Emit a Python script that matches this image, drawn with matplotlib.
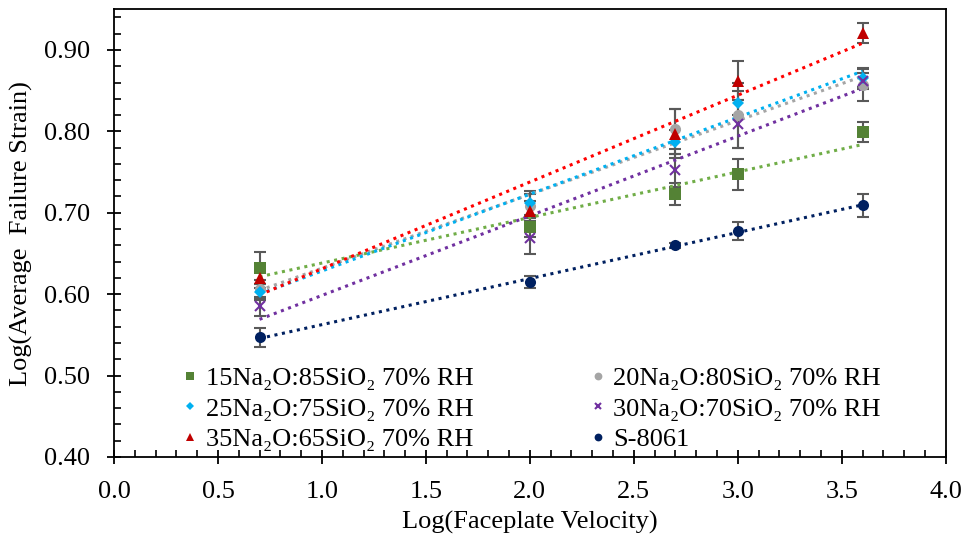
import matplotlib
matplotlib.use('Agg')
import matplotlib.pyplot as plt
import numpy as np
from matplotlib.ticker import MultipleLocator, FormatStrFormatter

plt.rcParams['font.family'] = ['Liberation Serif', 'DejaVu Serif']

velocity = [0.7, 2.0, 2.7, 3.0, 3.6]

labels = ['15Na₂O:85SiO₂ 70% RH', '20Na₂O:80SiO₂ 70% RH', '25Na₂O:75SiO₂ 70% RH',
          '30Na₂O:70SiO₂ 70% RH', '35Na₂O:65SiO₂ 70% RH', 'S-8061']

strain_15 = [0.632, 0.682, 0.723, 0.747, 0.799]
strain_20 = [0.606, 0.708, 0.803, 0.820, 0.857]
strain_25 = [0.603, 0.712, 0.787, 0.835, 0.866]
strain_30 = [0.585, 0.669, 0.752, 0.809, 0.862]
strain_35 = [0.620, 0.702, 0.797, 0.862, 0.921]
strain_s8061 = [0.547, 0.615, 0.660, 0.678, 0.709]

err_15 = [0.020, 0.012, 0.014, 0.019, 0.012]
err_20 = [0.012, 0.015, 0.025, 0.040, 0.020]
err_25 = [0.010, 0.015, 0.015, 0.015, 0.012]
err_30 = [0.012, 0.020, 0.020, 0.030, 0.010]
err_35 = [0.012, 0.012, 0.030, 0.024, 0.012]
err_s8061 = [0.012, 0.007, 0.003, 0.011, 0.014]

series = [strain_15, strain_20, strain_25, strain_30, strain_35, strain_s8061]
errors = [err_15, err_20, err_25, err_30, err_35, err_s8061]
colors = ['#548235', '#A5A5A5', '#00B0F0', '#7030A0', '#C00000', '#002060']
trend_colors = ['#70AD47', '#A5A5A5', '#00B0F0', '#7030A0', '#FF0000', '#002060']
markers = ['s', 'o', 'D', 'x', '^', 'o']
sizes = [8, 8, 6, 7, 8, 8]

fig = plt.figure(figsize=(9.66, 5.44), dpi=100)
ax = fig.add_axes([0.118, 0.160, 0.861, 0.823])

handles = []
xs = np.array(velocity)
for y, e, c, tc, m, s, lab in zip(series, errors, colors, trend_colors, markers, sizes, labels):
    ax.errorbar(velocity, y, yerr=e, fmt='none', ecolor='#595959',
                elinewidth=1.5, capsize=4, capthick=1.5, zorder=2)
    # linear trendline through each series
    k, b = np.polyfit(xs, y, 1)
    ax.plot([xs.min(), xs.max()], [k * xs.min() + b, k * xs.max() + b],
            ls=(0, (1, 1.5)), lw=2.2, color=tc, zorder=3)
    mew = 1.5 if m == 'x' else 0
    h, = ax.plot(velocity, y, ls='none', marker=m, ms=s, color=c,
                 mew=mew, label=lab, zorder=4)
    handles.append(h)

order = [0, 2, 4, 1, 3, 5]
leg = ax.legend([handles[i] for i in order], [labels[i] for i in order],
                ncol=2, loc='lower left', bbox_to_anchor=(0.055, -0.04),
                frameon=False, fontsize=19, markerscale=0.7, handlelength=0.5,
                handletextpad=0.35, columnspacing=4.45, labelspacing=0.27)

ax.set_xlim(0, 4)
ax.set_ylim(0.40, 0.95)
ax.xaxis.set_major_locator(MultipleLocator(0.5))
ax.xaxis.set_minor_locator(MultipleLocator(0.1))
ax.yaxis.set_major_locator(MultipleLocator(0.1))
ax.yaxis.set_minor_locator(MultipleLocator(0.02))
ax.xaxis.set_major_formatter(FormatStrFormatter('%.1f'))
ax.yaxis.set_major_formatter(FormatStrFormatter('%.2f'))
ax.tick_params(which='major', direction='inout', length=10, width=1.3, labelsize=19)
ax.tick_params(axis='x', which='major', pad=12)
ax.tick_params(axis='y', which='major', pad=12)
ax.tick_params(which='minor', direction='in', length=5, width=1.2)
for sp in ax.spines.values():
    sp.set_linewidth(1.3)

ax.set_xlabel('Log(Faceplate Velocity)', fontsize=19, labelpad=6)
ax.set_ylabel('Log(Average  Failure Strain)', fontsize=19, labelpad=8)

fig.savefig('out.png', dpi=100)
